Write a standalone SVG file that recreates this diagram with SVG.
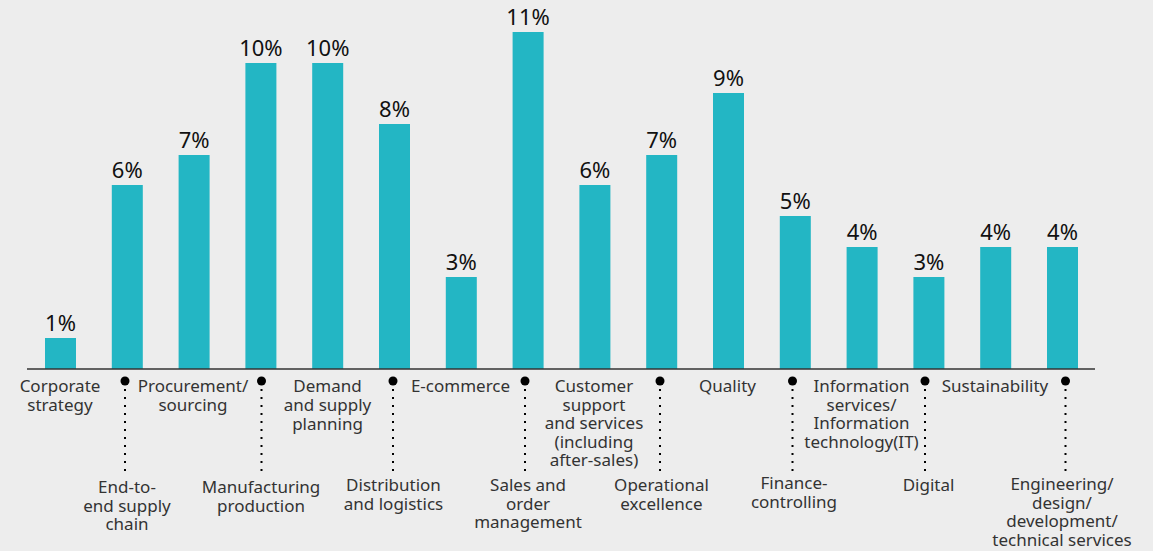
<svg xmlns="http://www.w3.org/2000/svg" width="1153" height="551" viewBox="0 0 1153 551">
<style>
.bar{fill:#23b6c4}
.val{font-family:"Noto Sans","Open Sans",sans-serif;font-size:22px;fill:#111;text-anchor:middle}
.lbl{font-family:"Noto Sans","Open Sans",sans-serif;font-size:17px;fill:#333;text-anchor:middle}
.dot{fill:#000}
.lead{stroke:#000;stroke-width:2;stroke-dasharray:2 6;fill:none}
</style>
<rect width="1153" height="551" fill="#ededed"/>
<g id="bars">
<g id="b1"><rect class="bar" x="45" y="338" width="31" height="31"/><text class="val" x="60.5" y="331">1%</text></g>
<g id="b2"><rect class="bar" x="111.8" y="185" width="31" height="184"/><text class="val" x="127.3" y="177.5">6%</text></g>
<g id="b3"><rect class="bar" x="178.6" y="155" width="31" height="214"/><text class="val" x="194.1" y="147.5">7%</text></g>
<g id="b4"><rect class="bar" x="245.4" y="63" width="31" height="306"/><text class="val" x="260.9" y="55.5">10%</text></g>
<g id="b5"><rect class="bar" x="312.2" y="63" width="31" height="306"/><text class="val" x="327.7" y="55.5">10%</text></g>
<g id="b6"><rect class="bar" x="379" y="124" width="31" height="245"/><text class="val" x="394.5" y="116.5">8%</text></g>
<g id="b7"><rect class="bar" x="445.8" y="277" width="31" height="92"/><text class="val" x="461.3" y="269.5">3%</text></g>
<g id="b8"><rect class="bar" x="512.6" y="32" width="31" height="337"/><text class="val" x="528.1" y="24.5">11%</text></g>
<g id="b9"><rect class="bar" x="579.4" y="185" width="31" height="184"/><text class="val" x="594.9" y="177.5">6%</text></g>
<g id="b10"><rect class="bar" x="646.2" y="155" width="31" height="214"/><text class="val" x="661.7" y="147.5">7%</text></g>
<g id="b11"><rect class="bar" x="713" y="93" width="31" height="276"/><text class="val" x="728.5" y="85.5">9%</text></g>
<g id="b12"><rect class="bar" x="779.8" y="216" width="31" height="153"/><text class="val" x="795.3" y="208.5">5%</text></g>
<g id="b13"><rect class="bar" x="846.6" y="247" width="31" height="122"/><text class="val" x="862.1" y="239.5">4%</text></g>
<g id="b14"><rect class="bar" x="913.4" y="277" width="31" height="92"/><text class="val" x="928.9" y="269.5">3%</text></g>
<g id="b15"><rect class="bar" x="980.2" y="247" width="31" height="122"/><text class="val" x="995.7" y="239.5">4%</text></g>
<g id="b16"><rect class="bar" x="1047" y="247" width="31" height="122"/><text class="val" x="1062.5" y="239.5">4%</text></g>
</g>
<g id="axis"><line x1="27" y1="369" x2="1095" y2="369" stroke="#333" stroke-width="1.5"/></g>
<g id="connectors">
<circle class="dot" cx="125" cy="381" r="4.5"/><line class="lead" x1="125" y1="389" x2="125" y2="473"/>
<circle class="dot" cx="261.5" cy="381" r="4.5"/><line class="lead" x1="261.5" y1="389" x2="261.5" y2="473"/>
<circle class="dot" cx="393" cy="381" r="4.5"/><line class="lead" x1="393" y1="389" x2="393" y2="473"/>
<circle class="dot" cx="525" cy="381" r="4.5"/><line class="lead" x1="525" y1="389" x2="525" y2="473"/>
<circle class="dot" cx="660" cy="381" r="4.5"/><line class="lead" x1="660" y1="389" x2="660" y2="473"/>
<circle class="dot" cx="792.5" cy="381" r="4.5"/><line class="lead" x1="792.5" y1="389" x2="792.5" y2="473"/>
<circle class="dot" cx="925" cy="381" r="4.5"/><line class="lead" x1="925" y1="389" x2="925" y2="473"/>
<circle class="dot" cx="1065.5" cy="381" r="4.5"/><line class="lead" x1="1065.5" y1="389" x2="1065.5" y2="473"/>
</g>
<g id="labels">
<text class="lbl" x="60" y="392">Corporate<tspan x="60" dy="19">strategy</tspan></text>
<text class="lbl" x="127" y="493">End-to-<tspan x="127" dy="18.5">end supply</tspan><tspan x="127" dy="18.5">chain</tspan></text>
<text class="lbl" x="193" y="392">Procurement/<tspan x="193" dy="19">sourcing</tspan></text>
<text class="lbl" x="261" y="493">Manufacturing<tspan x="261" dy="18.5">production</tspan></text>
<text class="lbl" x="327.5" y="392">Demand<tspan x="327.5" dy="19">and supply</tspan><tspan x="327.5" dy="19">planning</tspan></text>
<text class="lbl" x="393.5" y="491">Distribution<tspan x="393.5" dy="18.5">and logistics</tspan></text>
<text class="lbl" x="460.5" y="392">E-commerce</text>
<text class="lbl" x="528" y="491">Sales and<tspan x="528" dy="18.5">order</tspan><tspan x="528" dy="18.5">management</tspan></text>
<text class="lbl" x="594" y="392">Customer<tspan x="594" dy="18.5">support</tspan><tspan x="594" dy="18.5">and services</tspan><tspan x="594" dy="18.5">(including</tspan><tspan x="594" dy="18.5">after-sales)</tspan></text>
<text class="lbl" x="661.5" y="491">Operational<tspan x="661.5" dy="18.5">excellence</tspan></text>
<text class="lbl" x="727.5" y="392">Quality</text>
<text class="lbl" x="794" y="489">Finance-<tspan x="794" dy="18.5">controlling</tspan></text>
<text class="lbl" x="861.5" y="392">Information<tspan x="861.5" dy="18.5">services/</tspan><tspan x="861.5" dy="18.5">Information</tspan><tspan x="861.5" dy="18.5">technology(IT)</tspan></text>
<text class="lbl" x="928.5" y="491">Digital</text>
<text class="lbl" x="995" y="392">Sustainability</text>
<text class="lbl" x="1062" y="490">Engineering/<tspan x="1062" dy="18.5">design/</tspan><tspan x="1062" dy="18.5">development/</tspan><tspan x="1062" dy="18.5">technical services</tspan></text>
</g>
</svg>
